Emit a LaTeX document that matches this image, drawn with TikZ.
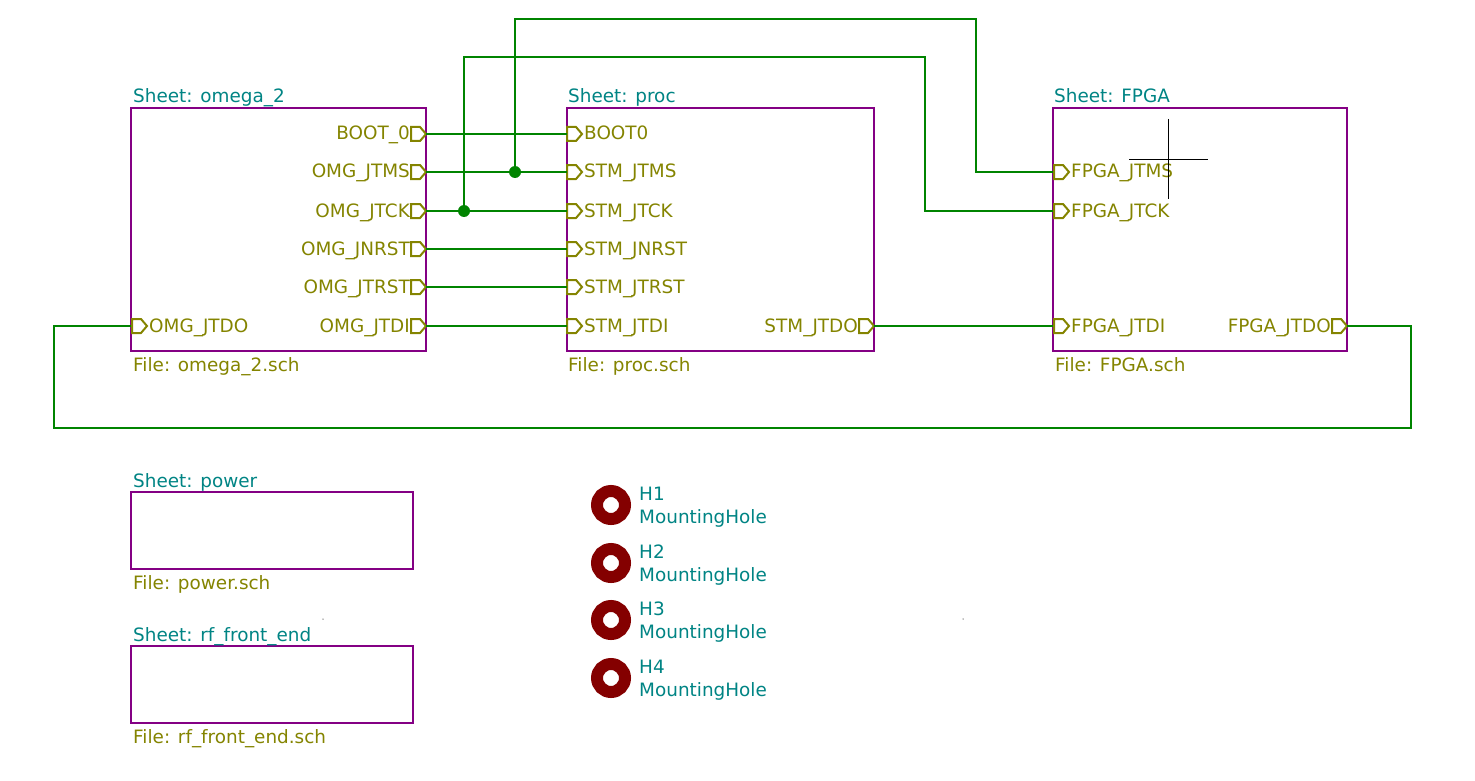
\documentclass[tikz,border=0pt]{standalone}
\usepackage{fontspec}
\setmainfont{DejaVu Sans}
\usetikzlibrary{%
  positioning
}
\definecolor{sheetline}{RGB}{132,0,132}
\definecolor{wirecol}{RGB}{0,132,0}
\definecolor{pincol}{RGB}{132,132,0}
\definecolor{namecol}{RGB}{0,132,132}
\definecolor{holecol}{RGB}{132,0,0}
\tikzset{%
  sheetbox/.style={draw=sheetline, line width=2.4pt, inner sep=0pt, outer sep=0pt, anchor=north west},
  wire/.style={draw=wirecol, line width=2.4pt},
  junct/.style={circle, fill=wirecol, inner sep=0pt, outer sep=0pt, minimum size=12pt},
  sheettext/.style={text=namecol, font=\fontsize{18.4}{20}\selectfont, inner sep=0pt, anchor=base west},
  filetext/.style={text=pincol, font=\fontsize{18.4}{20}\selectfont, inner sep=0pt, anchor=base west},
  holetext/.style={text=namecol, font=\fontsize{18.4}{20}\selectfont, inner sep=0pt, anchor=base west},
  pintext/.style={text=pincol, font=\fontsize{18.4}{20}\selectfont, inner sep=0pt},
  holemark/.style={circle, draw=holecol, line width=12pt, fill=white, inner sep=0pt, minimum size=28pt},
  speck/.style={circle, fill=gray, inner sep=0pt, minimum size=1.5pt},
  pinmark/.pic={\draw [pincol, line width=2pt] (0,-7) -- (9,-7) -- (15,0) -- (9,7) -- (0,7) -- cycle ;}
}

\begin{document}
\begin{tikzpicture}[x=1pt, y=-1pt]
  \useasboundingbox (0,0) rectangle (1475,781) ;

  % sheets
  \node [sheetbox, minimum width=295pt, minimum height=243pt] (omega) at (131,108) {} ;
  \node [sheetbox, minimum width=307pt, minimum height=243pt] (proc)  at (567,108) {} ;
  \node [sheetbox, minimum width=294pt, minimum height=243pt] (fpga)  at (1053,108) {} ;
  \node [sheetbox, minimum width=282pt, minimum height=77pt]  (power) at (131,492) {} ;
  \node [sheetbox, minimum width=282pt, minimum height=77pt]  (rf)    at (131,646) {} ;

  \node [sheettext] (omeganame) at (133,103)  {Sheet: omega\_2} ;
  \node [sheettext] (procname)  at (568,103)  {Sheet: proc} ;
  \node [sheettext] (fpganame)  at (1054,103) {Sheet: FPGA} ;
  \node [sheettext] (powername) at (133,487)  {Sheet: power} ;
  \node [sheettext] (rfname)    at (133,641)  {Sheet: rf\_front\_end} ;

  \node [filetext] (omegafile) at (133,371)  {File: omega\_2.sch} ;
  \node [filetext] (procfile)  at (568,371)  {File: proc.sch} ;
  \node [filetext] (fpgafile)  at (1055,371) {File: FPGA.sch} ;
  \node [filetext] (powerfile) at (133,589)  {File: power.sch} ;
  \node [filetext] (rffile)    at (133,743)  {File: rf\_front\_end.sch} ;

  % pins on the right edge of omega_2
  \foreach \pname/\py/\ptext in {boot/134/BOOT\_0, tms/172/OMG\_JTMS, tck/211/OMG\_JTCK,
                                 nrst/249/OMG\_JNRST, trst/287/OMG\_JTRST, tdi/326/OMG\_JTDI} {
    \coordinate (omega\pname) at (426,\py) ;
    \pic at (411,\py) {pinmark} ;
    \node [pintext, anchor=base east] (omegalabel\pname) at (410,\py+6) {\ptext} ;
  }
  \coordinate (omegatdo) at (131,326) ;
  \pic at (132,326) {pinmark} ;
  \node [pintext, anchor=base west] (omegalabeltdo) at (149,332) {OMG\_JTDO} ;

  % pins on proc
  \foreach \pname/\py/\ptext in {boot/134/BOOT0, tms/172/STM\_JTMS, tck/211/STM\_JTCK,
                                 nrst/249/STM\_JNRST, trst/287/STM\_JTRST, tdi/326/STM\_JTDI} {
    \coordinate (proc\pname) at (567,\py) ;
    \pic at (567,\py) {pinmark} ;
    \node [pintext, anchor=base west] (proclabel\pname) at (584,\py+6) {\ptext} ;
  }
  \coordinate (proctdo) at (874,326) ;
  \pic at (859,326) {pinmark} ;
  \node [pintext, anchor=base east] (proclabeltdo) at (858,332) {STM\_JTDO} ;

  % pins on FPGA
  \foreach \pname/\py/\ptext in {tms/172/FPGA\_JTMS, tck/211/FPGA\_JTCK, tdi/326/FPGA\_JTDI} {
    \coordinate (fpga\pname) at (1053,\py) ;
    \pic at (1054,\py) {pinmark} ;
    \node [pintext, anchor=base west] (fpgalabel\pname) at (1071,\py+6) {\ptext} ;
  }
  \coordinate (fpgatdo) at (1347,326) ;
  \pic at (1332,326) {pinmark} ;
  \node [pintext, anchor=base east] (fpgalabeltdo) at (1331,332) {FPGA\_JTDO} ;

  % wires
  \foreach \pname in {boot, tms, tck, nrst, trst, tdi} {
    \draw [wire] (omega\pname) -- (proc\pname) ;
  }
  \draw [wire] (proctdo) -- (fpgatdi) ;

  \node [junct] (junctms) at (515,172) {} ;
  \node [junct] (junctck) at (464,211) {} ;
  \coordinate (bendtms) at (976,19) ;
  \coordinate (bendtck) at (925,57) ;
  \draw [wire] (junctms.center) |- (bendtms) |- (fpgatms) ;
  \draw [wire] (junctck.center) |- (bendtck) |- (fpgatck) ;

  \coordinate (loopright) at (1411,428) ;
  \coordinate (loopleft)  at (54,428) ;
  \draw [wire] (fpgatdo) -| (loopright) -- (loopleft) |- (omegatdo) ;

  % mounting holes
  \foreach \hnum/\hy in {1/505, 2/563, 3/620, 4/678} {
    \node [holemark] (hole\hnum) at (611,\hy) {} ;
    \node [holetext] (holeref\hnum) at (639,\hy-4.5) {H\hnum} ;
    \node [holetext] (holeval\hnum) at (639,\hy+18.5) {MountingHole} ;
  }

  % cursor
  \coordinate (cursorw) at (1129,159) ;
  \coordinate (cursore) at (1208,159) ;
  \coordinate (cursorn) at (1168,119) ;
  \coordinate (cursors) at (1168,199) ;
  \draw [black, line width=0.8pt] (cursorw) -- (cursore) (cursorn) -- (cursors) ;

  \node [speck] (speckleft)  at (323,619) {} ;
  \node [speck] (speckright) at (963,619) {} ;
\end{tikzpicture}
\end{document}
